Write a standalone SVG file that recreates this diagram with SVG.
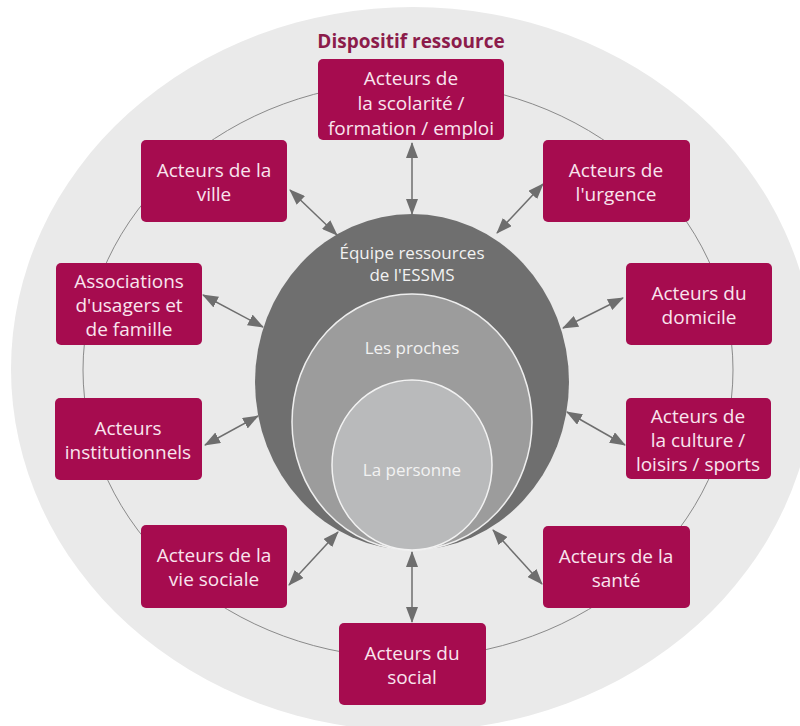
<svg xmlns="http://www.w3.org/2000/svg" width="800" height="726" viewBox="0 0 800 726">
  <defs>
    <style>
      .box { fill: #a60c4f; }
      .lbl { font-family: "Open Sans", "Liberation Sans", sans-serif; font-size: 19px; fill: #f9e4ee; text-anchor: middle; }
      .ctr { font-family: "Open Sans", "Liberation Sans", sans-serif; font-size: 17px; fill: #f2f2f2; text-anchor: middle; }
      .title { font-family: "Open Sans", "Liberation Sans", sans-serif; font-size: 19px; font-weight: bold; fill: #8c1c4b; text-anchor: middle; }
      .link { stroke: #6e6e6e; stroke-width: 1.5; fill: none; marker-start: url(#head); marker-end: url(#head); }
    </style>
    <marker id="head" viewBox="0 0 16 12" refX="15" refY="6" markerWidth="16" markerHeight="12" markerUnits="userSpaceOnUse" orient="auto-start-reverse">
      <path d="M0,0 L16,6 L0,12 z" fill="#6e6e6e"/>
    </marker>
  </defs>

  <rect width="800" height="726" fill="#ffffff"/>

  <!-- resource area -->
  <ellipse cx="413" cy="369" rx="402" ry="362" fill="#eaeaea"/>
  <ellipse cx="408" cy="370" rx="325" ry="288" fill="none" stroke="#8a8a8a" stroke-width="1"/>
  <text class="title" x="411" y="48">Dispositif ressource</text>

  <!-- nested circles -->
  <g id="equipe">
    <ellipse cx="412" cy="382" rx="157" ry="168" fill="#6f6f6f"/>
    <text class="ctr" x="412" y="259">Équipe ressources</text>
    <text class="ctr" x="412" y="281">de l'ESSMS</text>
  </g>
  <g id="proches">
    <ellipse cx="412" cy="422" rx="120" ry="128" fill="#9c9c9c" stroke="#eeeeee" stroke-width="1.5"/>
    <text class="ctr" x="412" y="354">Les proches</text>
  </g>
  <g id="personne">
    <ellipse cx="412" cy="465" rx="80" ry="85" fill="#b9babb" stroke="#f2f2f2" stroke-width="1.5"/>
    <text class="ctr" x="412" y="476">La personne</text>
  </g>

  <!-- connectors -->
  <g id="connectors">
    <line class="link" x1="412" y1="143" x2="412" y2="214"/>
    <line class="link" x1="290" y1="190" x2="337" y2="235"/>
    <line class="link" x1="543" y1="184" x2="497" y2="233"/>
    <line class="link" x1="203" y1="295" x2="263" y2="327"/>
    <line class="link" x1="623" y1="298" x2="563" y2="328"/>
    <line class="link" x1="205" y1="445" x2="258" y2="416"/>
    <line class="link" x1="625" y1="445" x2="567" y2="412"/>
    <line class="link" x1="289" y1="585" x2="338" y2="532"/>
    <line class="link" x1="542" y1="584" x2="493" y2="530"/>
    <line class="link" x1="412" y1="622" x2="412" y2="552"/>
  </g>

  <!-- actor boxes -->
  <g id="scolarite">
    <rect class="box" x="318" y="59" width="186" height="81" rx="5"/>
    <text class="lbl" x="411" y="85">Acteurs de</text>
    <text class="lbl" x="411" y="110">la scolarité /</text>
    <text class="lbl" x="411" y="135">formation / emploi</text>
  </g>
  <g id="ville">
    <rect class="box" x="141" y="140" width="146" height="82" rx="5"/>
    <text class="lbl" x="214" y="177">Acteurs de la</text>
    <text class="lbl" x="214" y="201">ville</text>
  </g>
  <g id="urgence">
    <rect class="box" x="543" y="140" width="147" height="82" rx="5"/>
    <text class="lbl" x="616" y="177">Acteurs de</text>
    <text class="lbl" x="616" y="201">l'urgence</text>
  </g>
  <g id="associations">
    <rect class="box" x="56" y="263" width="146" height="82" rx="5"/>
    <text class="lbl" x="129" y="288">Associations</text>
    <text class="lbl" x="129" y="312">d'usagers et</text>
    <text class="lbl" x="129" y="336">de famille</text>
  </g>
  <g id="domicile">
    <rect class="box" x="626" y="263" width="146" height="82" rx="5"/>
    <text class="lbl" x="699" y="300">Acteurs du</text>
    <text class="lbl" x="699" y="324">domicile</text>
  </g>
  <g id="institutionnels">
    <rect class="box" x="55" y="398" width="147" height="82" rx="5"/>
    <text class="lbl" x="128" y="435">Acteurs</text>
    <text class="lbl" x="128" y="459">institutionnels</text>
  </g>
  <g id="culture">
    <rect class="box" x="626" y="398" width="145" height="81" rx="5"/>
    <text class="lbl" x="698" y="423">Acteurs de</text>
    <text class="lbl" x="698" y="447">la culture /</text>
    <text class="lbl" x="698" y="471">loisirs / sports</text>
  </g>
  <g id="vie-sociale">
    <rect class="box" x="141" y="525" width="146" height="83" rx="5"/>
    <text class="lbl" x="214" y="562">Acteurs de la</text>
    <text class="lbl" x="214" y="586">vie sociale</text>
  </g>
  <g id="sante">
    <rect class="box" x="543" y="526" width="147" height="82" rx="5"/>
    <text class="lbl" x="616" y="563">Acteurs de la</text>
    <text class="lbl" x="616" y="587">santé</text>
  </g>
  <g id="social">
    <rect class="box" x="339" y="623" width="147" height="82" rx="5"/>
    <text class="lbl" x="412" y="660">Acteurs du</text>
    <text class="lbl" x="412" y="684">social</text>
  </g>
</svg>
